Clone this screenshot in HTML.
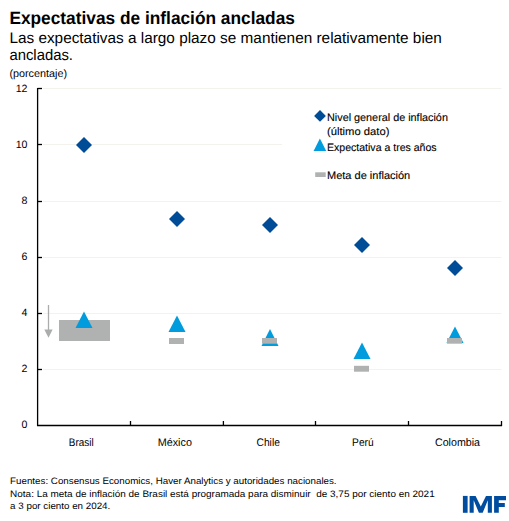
<!DOCTYPE html>
<html><head><meta charset="utf-8">
<style>
html,body{margin:0;padding:0;background:#fff;}
svg{display:block;}
text{font-family:"Liberation Sans",sans-serif;fill:#000;text-rendering:geometricPrecision;white-space:pre;}
.s text, text.s{stroke:#000;stroke-width:0.12px;}
</style></head>
<body>
<svg width="509" height="521" viewBox="0 0 509 521">
<rect width="509" height="521" fill="#fff"/>
<!-- title -->
<text x="9.4" y="23.6" font-size="17.8" textLength="285.5" lengthAdjust="spacingAndGlyphs" font-weight="bold">Expectativas de inflación ancladas</text>
<text x="9.4" y="42.9" font-size="15.3" textLength="432.5" lengthAdjust="spacingAndGlyphs">Las expectativas a largo plazo se mantienen relativamente bien</text>
<text x="9.4" y="59.6" font-size="15.3" textLength="63.6" lengthAdjust="spacingAndGlyphs">ancladas.</text>
<text x="9.4" y="76.6" font-size="10.8" textLength="57.6" lengthAdjust="spacingAndGlyphs">(porcentaje)</text>
<!-- gridlines -->
<g stroke="#F4F2EC" stroke-width="1">
<line x1="43" y1="88.5" x2="501.5" y2="88.5"/>
<line x1="43" y1="144.5" x2="501.5" y2="144.5"/>
<line x1="43" y1="201.5" x2="501.5" y2="201.5"/>
<line x1="43" y1="257.5" x2="501.5" y2="257.5"/>
<line x1="43" y1="313.5" x2="501.5" y2="313.5"/>
<line x1="43" y1="369.5" x2="501.5" y2="369.5"/>
</g>
<!-- axes -->
<g stroke="#000" stroke-width="1.3">
<line x1="37.6" y1="88" x2="37.6" y2="426.1"/>
<line x1="37" y1="425.5" x2="502.1" y2="425.5"/>
<line x1="37.6" y1="88.5" x2="42" y2="88.5"/>
<line x1="37.6" y1="144.5" x2="42" y2="144.5"/>
<line x1="37.6" y1="201.5" x2="42" y2="201.5"/>
<line x1="37.6" y1="257.5" x2="42" y2="257.5"/>
<line x1="37.6" y1="313.5" x2="42" y2="313.5"/>
<line x1="37.6" y1="369.5" x2="42" y2="369.5"/>
<line x1="130.5" y1="421" x2="130.5" y2="425.5"/>
<line x1="223.4" y1="421" x2="223.4" y2="425.5"/>
<line x1="315.5" y1="421" x2="315.5" y2="425.5"/>
<line x1="408.5" y1="421" x2="408.5" y2="425.5"/>
<line x1="501.5" y1="421" x2="501.5" y2="425.5"/>
</g>
<!-- y labels -->
<g text-anchor="end">
<text x="27.5" y="92.20" font-size="10.6">12</text>
<text x="27.5" y="148.23" font-size="10.6">10</text>
<text x="27.5" y="204.26" font-size="10.6">8</text>
<text x="27.5" y="260.29" font-size="10.6">6</text>
<text x="27.5" y="316.32" font-size="10.6">4</text>
<text x="27.5" y="372.35" font-size="10.6">2</text>
<text x="27.5" y="428.38" font-size="10.6">0</text>
</g>
<!-- x labels -->
<text x="68.8" y="445.9" font-size="11" textLength="24.8" lengthAdjust="spacingAndGlyphs">Brasil</text>
<text x="157.7" y="445.9" font-size="11" textLength="34.2" lengthAdjust="spacingAndGlyphs">México</text>
<text x="256.5" y="445.9" font-size="11" textLength="23.4" lengthAdjust="spacingAndGlyphs">Chile</text>
<text x="352.1" y="445.9" font-size="11" textLength="21.5" lengthAdjust="spacingAndGlyphs">Perú</text>
<text x="435" y="445.9" font-size="11" textLength="45" lengthAdjust="spacingAndGlyphs">Colombia</text>
<!-- arrow -->
<line x1="48.5" y1="305" x2="48.5" y2="331" stroke="#ABADAD" stroke-width="1.3"/>
<polygon points="44.3,329.6 52.6,329.6 48.5,337.8" fill="#ABADAD"/>
<!-- Brasil box -->
<rect x="59" y="320" width="51" height="21" fill="#B0B2B1"/>
<!-- triangles -->
<g fill="#009CDE">
<polygon points="84,311.5 92.5,328 75.5,328"/>
<polygon points="177,315.6 185.5,332 168.5,332"/>
<polygon points="270,329.1 278.5,346.1 261.5,346.1"/>
<polygon points="362,342.6 370.5,359 353.5,359"/>
<polygon points="455,326.5 463.5,343.1 446.5,343.1"/>
</g>
<!-- bars -->
<g fill="#B0B2B1">
<rect x="169" y="338" width="15" height="6"/>
<rect x="262" y="338" width="15" height="5.7"/>
<rect x="354" y="365.8" width="15" height="5.9"/>
<rect x="447" y="338" width="15" height="5.7"/>
</g>
<!-- diamonds -->
<g fill="#004C97">
<polygon points="84,137 92,145 84,153 76,145"/>
<polygon points="177,211 185,219 177,227 169,219"/>
<polygon points="270,217 278,225 270,233 262,225"/>
<polygon points="362,237 370,245 362,253 354,245"/>
<polygon points="455,260 463,268 455,276 447,268"/>
</g>
<!-- legend -->
<rect x="282" y="100" width="224" height="88" fill="#fff"/>
<polygon points="320,110 325.9,115.9 320,121.8 314.1,115.9" fill="#004C97"/>
<polygon points="319.9,138.5 326.2,151 313.6,151" fill="#009CDE"/>
<rect x="315.2" y="172.3" width="10.5" height="4.7" fill="#B0B2B1"/>
<text class="s" x="327" y="120.9" font-size="10.8" textLength="120.9" lengthAdjust="spacingAndGlyphs">Nivel general de inflación</text>
<text class="s" x="327" y="134.7" font-size="10.8" textLength="62.4" lengthAdjust="spacingAndGlyphs">(último dato)</text>
<text class="s" x="327" y="150.8" font-size="10.8" textLength="109.6" lengthAdjust="spacingAndGlyphs">Expectativa a tres años</text>
<text class="s" x="327" y="178.7" font-size="10.8" textLength="83.2" lengthAdjust="spacingAndGlyphs">Meta de inflación</text>
<!-- footer -->
<text x="10.1" y="483.8" font-size="9.3" textLength="326.5" lengthAdjust="spacingAndGlyphs">Fuentes: Consensus Economics, Haver Analytics y autoridades nacionales.</text>
<text x="10.1" y="496.8" font-size="9.3" textLength="424.6" lengthAdjust="spacingAndGlyphs">Nota: La meta de inflación de Brasil está programada para disminuir  de 3,75 por ciento en 2021</text>
<text x="10.1" y="509.0" font-size="9.3" textLength="100.2" lengthAdjust="spacingAndGlyphs">a 3 por ciento en 2024.</text>
<!-- IMF -->
<g fill="#004C9E">
<rect x="462.9" y="495.9" width="4.7" height="16.9"/>
<polygon points="469.6,512.8 469.6,495.9 475.6,495.9 480.8,506.6 486.0,495.9 491.9,495.9 491.9,512.8 487.8,512.8 487.8,500.2 482.7,512.8 478.9,512.8 473.7,500.2 473.7,512.8"/>
<polygon points="494.1,495.9 506,495.9 506,500.2 498.8,500.2 498.8,503 504.8,503 504.8,506.9 498.8,506.9 498.8,512.8 494.1,512.8"/>
</g>
</svg>
</body></html>
